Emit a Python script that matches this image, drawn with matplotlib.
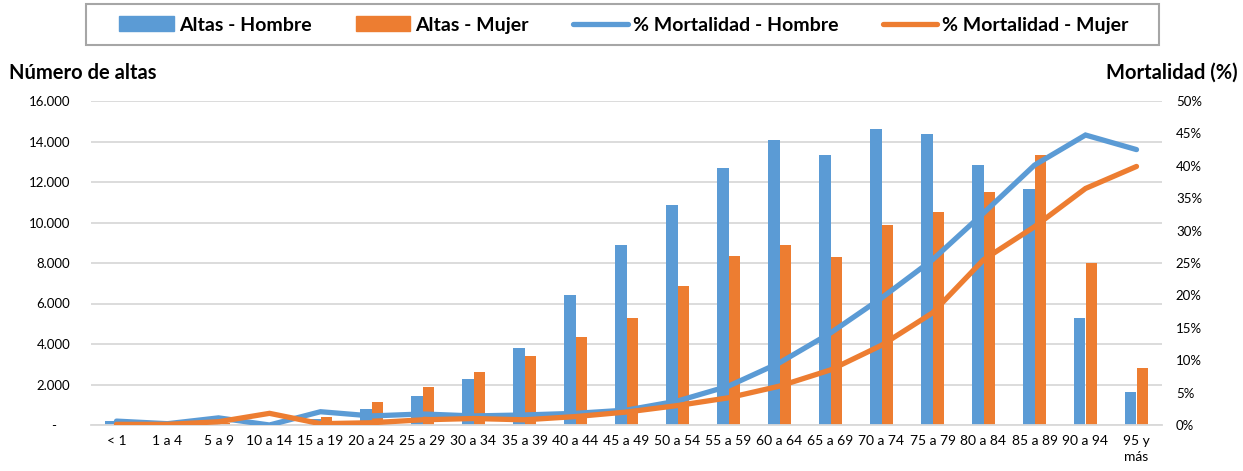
import numpy as np
import matplotlib
matplotlib.use("Agg")
import matplotlib.pyplot as plt
from matplotlib.patches import Patch, Rectangle
from matplotlib.lines import Line2D
from matplotlib.ticker import FuncFormatter, MultipleLocator

plt.rcParams['font.family'] = ['Lato', 'DejaVu Sans']

# age groups
grupos = ["< 1", "1 a 4", "5 a 9", "10 a 14", "15 a 19", "20 a 24", "25 a 29",
          "30 a 34", "35 a 39", "40 a 44", "45 a 49", "50 a 54", "55 a 59",
          "60 a 64", "65 a 69", "70 a 74", "75 a 79", "80 a 84", "85 a 89",
          "90 a 94", "95 y\nmás"]

# number of discharges
altas_hombre = [210, 100, 150, 100, 280, 790, 1430, 2260, 3800, 6440, 8890,
                10870, 12700, 14080, 13340, 14620, 14360, 12860, 11660, 5290, 1630]
altas_mujer = [50, 50, 80, 150, 410, 1150, 1890, 2620, 3410, 4360, 5290,
               6870, 8350, 8890, 8300, 9900, 10540, 11530, 13320, 8000, 2830]

# mortality (%)
mort_hombre = [0.6, 0.2, 1.1, 0.0, 2.05, 1.4, 1.7, 1.4, 1.55, 1.8, 2.3,
               3.7, 6.0, 9.6, 14.2, 19.6, 25.5, 32.7, 40.1, 44.75, 42.5]
mort_mujer = [0.1, 0.1, 0.5, 1.8, 0.2, 0.35, 0.8, 1.0, 0.8, 1.3, 2.0,
              3.0, 4.2, 6.0, 8.5, 12.3, 17.3, 25.5, 30.6, 36.5, 39.9]

azul = "#5B9BD5"
naranja = "#ED7D31"

fig = plt.figure(figsize=(12.43, 4.71), dpi=100)
ax = fig.add_axes([91 / 1243, 1 - 425 / 471, 1071 / 1243, 324 / 471])

x = np.arange(len(grupos))
w = 0.235
ax.bar(x - w / 2, altas_hombre, w, color=azul, zorder=2)
ax.bar(x + w / 2, altas_mujer, w, color=naranja, zorder=2)

ax.set_xlim(-0.5, len(grupos) - 0.5)
ax.set_ylim(0, 16000)
ax.yaxis.set_major_locator(MultipleLocator(2000))
ax.yaxis.set_major_formatter(FuncFormatter(
    lambda v, p: "-    " if v == 0 else f"{int(v):,}".replace(",", ".")))
ax.grid(axis="y", color="#d9d9d9", linewidth=1.3, zorder=0)
ax.set_axisbelow(True)
for s in ["top", "right", "left"]:
    ax.spines[s].set_visible(False)
ax.spines["bottom"].set_color("#d9d9d9")
ax.spines["bottom"].set_linewidth(1.3)
ax.set_xticks(x)
ax.set_xticklabels(grupos, fontsize=10, linespacing=1.4, va="top")
ax.tick_params(axis="x", length=0, pad=7)
ax.tick_params(axis="y", length=0, pad=15, labelsize=9.5)

# mortality on the secondary axis
ax2 = ax.twinx()
ax2.plot(x, mort_hombre, color=azul, linewidth=3.8, solid_capstyle="round",
         solid_joinstyle="miter", zorder=3)
ax2.plot(x, mort_mujer, color=naranja, linewidth=3.8, solid_capstyle="round",
         solid_joinstyle="miter", zorder=3)
ax2.set_ylim(0, 50)
ax2.yaxis.set_major_locator(MultipleLocator(5))
ax2.yaxis.set_major_formatter(FuncFormatter(lambda v, p: f"{int(v)}%"))
ax2.tick_params(axis="y", length=0, pad=10, labelsize=9.5)
for s in ["top", "right", "left", "bottom"]:
    ax2.spines[s].set_visible(False)

fig.text(9 / 1243, 1 - 73 / 471, "Número de altas", fontsize=14.5,
         fontweight="bold", ha="left", va="center")
fig.text(1238 / 1243, 1 - 73 / 471, "Mortalidad (%)", fontsize=14.5,
         fontweight="bold", ha="right", va="center")

# legend with its own frame
fig.patches.append(Rectangle((86 / 1243, 1 - 45 / 471), 1073 / 1243, 41 / 471,
                             transform=fig.transFigure, fill=False,
                             edgecolor="#a6a6a6", linewidth=1.5))
handles = [Patch(color=azul), Patch(color=naranja),
           Line2D([], [], color=azul, linewidth=3.8, solid_capstyle="round"),
           Line2D([], [], color=naranja, linewidth=3.8, solid_capstyle="round")]
labels = ["Altas - Hombre", "Altas - Mujer", "% Mortalidad - Hombre",
          "% Mortalidad - Mujer"]
fig.legend(handles, labels, loc="center", bbox_to_anchor=(624 / 1243, 1 - 25 / 471),
           ncol=4, frameon=False, prop={"weight": "bold", "size": 14},
           handlelength=2.8, handleheight=0.8, handletextpad=0.25,
           columnspacing=2.3)

fig.savefig("out.png", dpi=100)
